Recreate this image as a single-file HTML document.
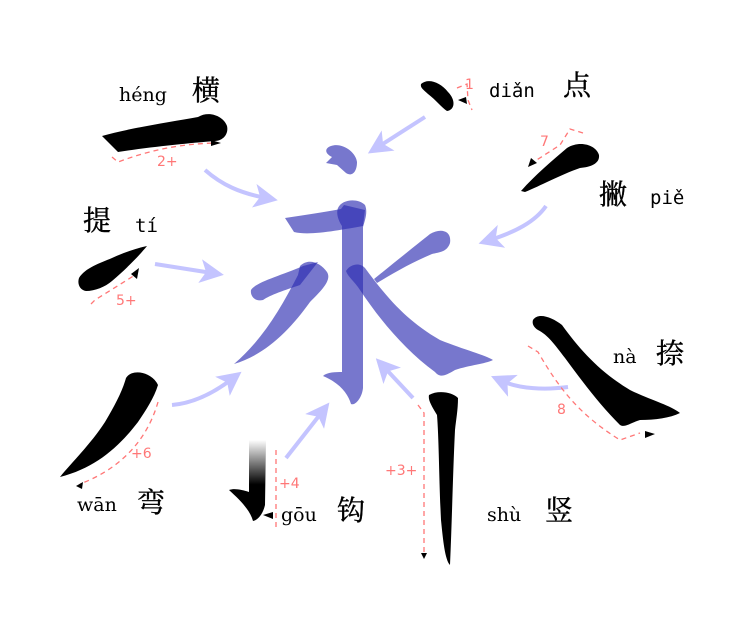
<!DOCTYPE html>
<html><head><meta charset="utf-8"><style>
html,body{margin:0;padding:0;background:#fff}
svg{display:block}
.py{font-family:"DejaVu Sans Mono","Liberation Mono",monospace;font-size:19px;fill:#000}
.pys{font-family:"DejaVu Serif","Liberation Serif",serif;font-size:19px;fill:#000}
.hz{font-family:"Liberation Serif","Noto Serif CJK SC",serif;font-size:28px;fill:#000;stroke:#000;stroke-width:0.4}
.n{font-family:"DejaVu Sans","Liberation Sans",sans-serif;font-size:14px;fill:#f77}
.d{fill:none;stroke:#f77;stroke-width:1.3;stroke-dasharray:5,4}
.a{fill:none;stroke:#c4c4ff;stroke-width:4}
.b{fill:#2a2ab0;fill-opacity:0.64}
</style></head><body>
<svg width="751" height="625" viewBox="0 0 751 625" xmlns="http://www.w3.org/2000/svg">
<defs>
<marker id="ah" markerWidth="6" markerHeight="6" refX="3" refY="3" orient="auto" markerUnits="strokeWidth"><path d="M0,0 L6,3 L0,6 L1.5,3Z" fill="#c4c4ff"/></marker>
<linearGradient id="g" x1="0" y1="0" x2="0" y2="1"><stop offset="0" stop-color="#fff"/><stop offset="0.55" stop-color="#000"/><stop offset="1" stop-color="#000"/></linearGradient>
</defs>

<g>
<path class="b" d="M331,146 C342,142 356,152 357,162 C357,172 352,177 346,173 L337,165 L326,163 L332,157 C324,153 325,148 331,146Z"/>
<path class="b" d="M285,218 C305,215 325,212 341,209 L344,205 L365,210 L363,226 C340,230 310,236 294,232 Z"/>
<path class="b" d="M338,208 C342,199 358,198 365,205 C368,212 365,220 363,227 L363,388 C362,398 355,406 351,404 C348,394 340,383 323,376 C327,372 336,372 342,372 L342,226 C338,220 336,213 338,208Z"/>
<path class="b" d="M251,290 C256,282 280,276 303,266 L318,262 L300,285 C285,290 270,295 263,300 C255,302 250,296 251,290Z"/>
<path class="b" d="M300,266 C308,258 320,262 327,272 C332,280 322,290 310,302 C290,330 265,355 234,364 C262,340 280,310 298,275 Z"/>
<path class="b" d="M374,279 C395,262 415,246 430,234 C440,228 452,230 450,243 C447,252 440,252 432,254 C413,262 395,272 377,283Z"/>
<path class="b" d="M346,271 C350,264 360,262 365,268 C385,295 405,320 440,340 C465,350 485,355 493,360 C485,364 470,365 455,370 C445,376 440,378 435,372 C405,350 380,320 360,290 C355,282 348,277 346,271Z"/>
</g>

<path class="a" d="M425,117 L378,147" marker-end="url(#ah)"/>
<path class="a" d="M205,170 C222,185 240,193 266,198" marker-end="url(#ah)"/>
<path class="a" d="M546,206 C535,222 515,232 490,240" marker-end="url(#ah)"/>
<path class="a" d="M155,264 L212,273" marker-end="url(#ah)"/>
<path class="a" d="M172,405 C195,403 215,392 232,379" marker-end="url(#ah)"/>
<path class="a" d="M286,458 L322,412" marker-end="url(#ah)"/>
<path class="a" d="M413,398 L384,367" marker-end="url(#ah)"/>
<path class="a" d="M568,387 C545,390 520,389 502,381" marker-end="url(#ah)"/>

<path d="M102,136 C130,128 170,122 198,117 C210,110 224,117 227,126 C229,135 222,141 215,141 C190,143 150,147 118,152 Z"/>
<path d="M421,84 C428,78 440,82 448,92 C456,100 455,110 447,111 C442,108 436,100 428,94 C424,90 420,88 421,84Z"/>
<path d="M521,191 C535,175 553,160 567,148 C580,140 596,145 599,155 C600,164 590,167 580,168 C560,175 540,186 525,192Z"/>
<path d="M79,278 C85,268 100,263 112,258 C125,252 138,248 147,246 C138,257 125,270 112,281 C105,287 95,291 86,291 C80,290 77,284 79,278Z"/>
<path d="M533,320 C538,312 552,317 562,325 C580,350 600,372 630,390 C650,400 670,405 680,413 C670,418 655,420 640,420 C630,423 625,428 620,425 C600,405 585,385 565,358 C555,345 548,335 538,330 C533,327 532,323 533,320Z"/>
<path d="M126,378 C132,368 152,372 158,385 C154,398 146,410 138,422 C118,448 95,468 60,477 C72,462 90,445 105,422 C115,405 122,392 126,378Z"/>
<path d="M249,440 L266,440 L265,505 C263,514 258,520 253,521 C250,510 240,500 229,490 C235,488 242,490 249,492 Z" fill="url(#g)"/>
<path d="M429,395 C438,390 452,392 458,398 C458,410 456,420 455,430 C453,470 452,520 450,565 C445,560 443,540 441,520 C439,480 439,440 437,415 C431,405 428,400 429,395Z"/>

<path class="d" d="M112,157 L118,162 C150,150 180,144 215,143"/>
<path d="M211,140 L221,143 L211,146Z"/>
<path class="d" d="M457,88 L467,84 L468,100 L472,110"/>
<path d="M467,104 L458,100 L466,97Z"/>
<path class="d" d="M583,133 L570,129 L560,145 L532,163"/>
<path d="M528,167 L531,158 L537,163Z"/>
<path class="d" d="M91,304 L95,300 L135,275"/>
<path d="M131,274 L139,268 L137,279Z"/>
<path class="d" d="M528,346 L538,352 C560,390 580,415 620,440 L640,433"/>
<path d="M645,431 L655,434 L645,438Z"/>
<path class="d" d="M158,402 C150,430 130,465 80,484"/>
<path d="M76,486 L83,482 L82,489Z"/>
<path class="d" d="M276,450 L276,530"/>
<path d="M263,515 L273,512 L273,519Z"/>
<path class="d" d="M418,405 L424,413 L424,555"/>
<path d="M421,553 L427,553 L424,559Z"/>

<text class="n" x="157" y="166">2+</text>
<text class="n" x="465" y="89">1</text>
<text class="n" x="540" y="146">7</text>
<text class="n" x="116" y="305">5+</text>
<text class="n" x="557" y="414">8</text>
<text class="n" x="131" y="458">+6</text>
<text class="n" x="279" y="488">+4</text>
<text class="n" x="385" y="475">+3+</text>

<text class="pys" x="119" y="101">héng</text>
<text class="hz" x="192" y="100">横</text>
<text class="py" x="489" y="97">diǎn</text>
<text class="hz" x="563" y="95">点</text>
<text class="hz" x="599" y="204">撇</text>
<text class="py" x="650" y="204">piě</text>
<text class="hz" x="83" y="230">提</text>
<text class="py" x="135" y="232">tí</text>
<text class="pys" x="613" y="363">nà</text>
<text class="hz" x="656" y="363">捺</text>
<text class="pys" x="77" y="511">wān</text>
<text class="hz" x="137" y="512">弯</text>
<text class="pys" x="281" y="521">gōu</text>
<text class="hz" x="337" y="520">钩</text>
<text class="pys" x="487" y="521">shù</text>
<text class="hz" x="545" y="520">竖</text>
</svg>
</body></html>
